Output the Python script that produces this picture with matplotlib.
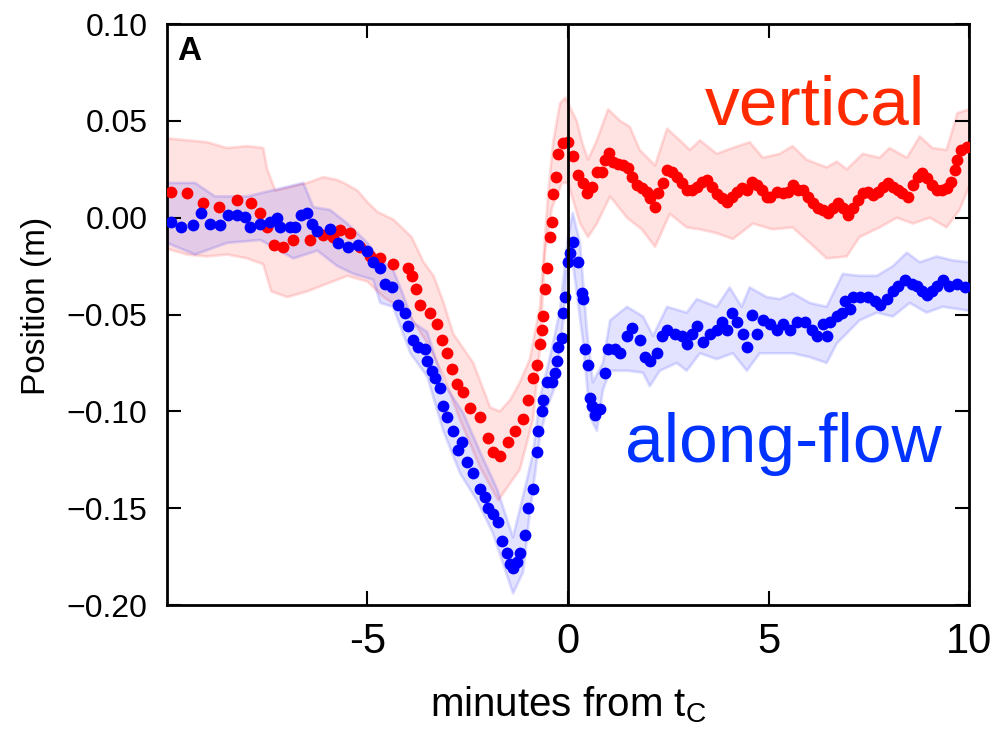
import numpy as np
import matplotlib
matplotlib.use('Agg')
import matplotlib.pyplot as plt

plt.rcParams['font.family'] = ['Liberation Sans', 'DejaVu Sans']

# Vertical position (red dots), minutes from tC and metres
vert_t = [-9.91, -9.5, -9.1, -8.7, -8.25, -7.9, -7.67, -7.5, -7.33, -7.1, -6.85, -6.43, -6.1, -5.85,
          -5.68, -5.43, -5.18, -4.93, -4.68, -4.36, -4.0, -3.88, -3.8, -3.69, -3.43, -3.26, -3.14,
          -3.01, -2.89, -2.77, -2.61, -2.44, -2.19, -1.99, -1.87, -1.7, -1.49, -1.32, -1.12, -1.0,
          -0.87, -0.77, -0.7, -0.65, -0.62, -0.57, -0.52, -0.45, -0.4, -0.37, -0.3, -0.25, -0.12,
          0.0, 0.13, 0.25, 0.37, 0.47, 0.6, 0.72, 0.85, 0.92, 1.02, 1.12, 1.25, 1.37, 1.49, 1.59,
          1.72, 1.84, 1.97, 2.04, 2.17, 2.24, 2.37, 2.47, 2.59, 2.72, 2.84, 2.96, 3.09, 3.21, 3.34,
          3.46, 3.59, 3.71, 3.84, 3.96, 4.08, 4.21, 4.33, 4.46, 4.58, 4.71, 4.83, 4.96, 5.03, 5.2,
          5.35, 5.48, 5.6, 5.73, 5.85, 5.98, 6.1, 6.23, 6.35, 6.48, 6.6, 6.72, 6.85, 6.97, 7.1,
          7.22, 7.35, 7.47, 7.6, 7.72, 7.85, 7.97, 8.1, 8.22, 8.34, 8.47, 8.59, 8.72, 8.82, 8.94,
          9.07, 9.19, 9.32, 9.44, 9.56, 9.64, 9.71, 9.81, 9.94]
vert_pos = [0.0134, 0.013, 0.0076, 0.0055, 0.009, 0.0077, 0.0025, -0.005, -0.014, -0.015, -0.0115,
            -0.0115, -0.009, -0.010, -0.0063, -0.008, -0.015, -0.020, -0.021, -0.024, -0.026, -0.030,
            -0.037, -0.045, -0.049, -0.055, -0.063, -0.070, -0.078, -0.086, -0.090, -0.098, -0.103,
            -0.114, -0.121, -0.123, -0.116, -0.110, -0.104, -0.094, -0.083, -0.076, -0.065, -0.058,
            -0.051, -0.037, -0.026, -0.010, -0.002, 0.012, 0.021, 0.033, 0.0386,
            0.039, 0.032, 0.022, 0.018, 0.013, 0.016, 0.0236, 0.0236, 0.030, 0.0334, 0.029, 0.028,
            0.027, 0.0257, 0.021, 0.017, 0.0155, 0.0133, 0.010, 0.0055, 0.013, 0.018, 0.0247, 0.0236,
            0.021, 0.018, 0.0143, 0.0143, 0.016, 0.0185, 0.0195, 0.016, 0.012, 0.010, 0.008, 0.0107,
            0.0133, 0.0155, 0.0143, 0.0185, 0.017, 0.0143, 0.0107, 0.0107, 0.0133, 0.0128, 0.0133,
            0.017, 0.0143, 0.0143, 0.0107, 0.0076, 0.005, 0.004, 0.0025, 0.005, 0.0076, 0.005, 0.0015,
            0.005, 0.009, 0.0128, 0.0133, 0.0118, 0.0133, 0.016, 0.018, 0.016, 0.0143, 0.0128, 0.0107,
            0.017, 0.021, 0.023, 0.0205, 0.017, 0.0143, 0.0143, 0.0155, 0.0185, 0.0247, 0.030, 0.035,
            0.0366]

# Along-flow position (blue dots)
flow_t = [-9.91, -9.66, -9.36, -9.16, -8.92, -8.67, -8.47, -8.25, -8.05, -7.92, -7.67, -7.42, -7.25,
          -7.17, -6.92, -6.8, -6.67, -6.5, -6.38, -6.25, -5.93, -5.73, -5.48, -5.23, -5.0, -4.86,
          -4.68, -4.56, -4.38, -4.23, -4.06, -3.99, -3.86, -3.74, -3.56, -3.51, -3.39, -3.31, -3.19,
          -3.11, -3.01, -2.86, -2.74, -2.64, -2.52, -2.36, -2.19, -2.07, -1.99, -1.87, -1.74, -1.64,
          -1.52, -1.44, -1.37, -1.27, -1.2, -1.07, -1.0, -0.87, -0.77, -0.75, -0.65, -0.62, -0.52,
          -0.4, -0.32, -0.27, -0.25, -0.15, -0.12, -0.07, 0.0, 0.05, 0.12, 0.25, 0.35, 0.37, 0.42,
          0.5, 0.55, 0.6, 0.67, 0.8, 0.92, 1.0, 1.17, 1.3, 1.47, 1.59, 1.79, 1.92, 2.04, 2.22, 2.34,
          2.47, 2.67, 2.84, 2.96, 3.09, 3.21, 3.36, 3.54, 3.71, 3.84, 3.96, 4.08, 4.21, 4.36, 4.46,
          4.58, 4.71, 4.86, 5.03, 5.2, 5.35, 5.53, 5.7, 5.9, 6.08, 6.2, 6.35, 6.45, 6.53, 6.7, 6.82,
          6.9, 7.02, 7.1, 7.27, 7.47, 7.65, 7.77, 7.95, 8.1, 8.22, 8.4, 8.57, 8.69, 8.82, 8.94, 9.07,
          9.19, 9.34, 9.51, 9.69, 9.89]
flow_pos = [-0.002, -0.005, -0.004, 0.0025, -0.003, -0.004, 0.0015, 0.0015, 0.0004, -0.005, -0.003,
            -0.002, 0.0, -0.005, -0.005, -0.005, 0.0015, 0.0025, -0.003, -0.007, -0.006, -0.013,
            -0.015, -0.014, -0.017, -0.023, -0.026, -0.034, -0.036, -0.045, -0.049, -0.056, -0.063,
            -0.067, -0.068, -0.074, -0.079, -0.083, -0.088, -0.097, -0.103, -0.110, -0.120, -0.116,
            -0.126, -0.132, -0.140, -0.144, -0.150, -0.153, -0.157, -0.167, -0.173, -0.179, -0.181,
            -0.178, -0.173, -0.164, -0.150, -0.140, -0.121, -0.110, -0.100, -0.094, -0.085, -0.085,
            -0.080, -0.074, -0.067, -0.062, -0.049, -0.041, -0.023, -0.018, -0.0125, -0.023, -0.039,
            -0.042, -0.068, -0.076, -0.093, -0.097, -0.102, -0.099, -0.080, -0.068, -0.068, -0.070,
            -0.061, -0.057, -0.063, -0.072, -0.074, -0.070, -0.061, -0.058, -0.060, -0.061, -0.065,
            -0.060, -0.056, -0.064, -0.060, -0.058, -0.054, -0.058, -0.049, -0.054, -0.060, -0.067,
            -0.050, -0.060, -0.053, -0.055, -0.058, -0.055, -0.058, -0.054, -0.054, -0.058, -0.061,
            -0.055, -0.061, -0.054, -0.051, -0.049, -0.043, -0.047, -0.041, -0.041, -0.041, -0.043,
            -0.045, -0.042, -0.038, -0.035, -0.032, -0.034, -0.035, -0.038, -0.040, -0.038, -0.035,
            -0.032, -0.035, -0.034, -0.036]

# Uncertainty band edges, vertical
vert_hi_t = [-10, -9.5, -9, -8.5, -8, -7.6, -7.5, -7.3, -6.9, -6.5, -6.1, -5.75, -5.5, -5.25, -5.0,
             -4.75, -4.35, -3.9, -3.6, -3.35, -3.1, -2.86, -2.36, -1.94, -1.7, -1.44, -1.2, -0.95,
             -0.7, -0.5, -0.37, -0.2, -0.07, 0.05, 0.22, 0.35, 0.5, 0.72, 1.0, 1.3, 1.54, 1.79, 2.17,
             2.47, 2.79, 3.04, 3.29, 3.71, 3.96, 4.53, 4.86, 5.28, 5.6, 5.95, 6.45, 6.7, 6.95, 7.35,
             7.77, 8.02, 8.45, 8.77, 9.09, 9.44, 9.71, 10]
vert_hi = [0.041, 0.040, 0.039, 0.036, 0.037, 0.036, 0.025, 0.014, 0.016, 0.018, 0.021, 0.0195, 0.017,
           0.014, 0.008, 0.003, -0.001, -0.010, -0.023, -0.030, -0.044, -0.060, -0.075, -0.098,
           -0.100, -0.094, -0.085, -0.073, -0.046, 0.011, 0.039, 0.059, 0.062, 0.057, 0.050, 0.039,
           0.030, 0.040, 0.056, 0.050, 0.047, 0.035, 0.027, 0.046, 0.040, 0.035, 0.040, 0.033, 0.035,
           0.039, 0.031, 0.033, 0.037, 0.030, 0.026, 0.029, 0.025, 0.033, 0.031, 0.036, 0.031, 0.042,
           0.036, 0.035, 0.054, 0.056]
vert_lo_t = [-10, -9.5, -9, -8.5, -8, -7.6, -7.4, -7.0, -6.5, -6.0, -5.5, -5.0, -4.6, -4.0, -3.5,
             -3.1, -2.7, -2.19, -1.74, -1.2, -0.87, -0.7, -0.57, -0.4, -0.15, 0.0, 0.3, 0.5, 0.72,
             1.05, 1.47, 1.84, 2.17, 2.54, 2.96, 3.29, 3.71, 4.11, 4.61, 5.1, 5.6, 6.03, 6.45, 6.95,
             7.27, 7.77, 8.2, 8.6, 9.02, 9.44, 9.76, 10]
vert_lo = [-0.016, -0.019, -0.020, -0.019, -0.021, -0.024, -0.038, -0.041, -0.038, -0.034, -0.030,
           -0.033, -0.041, -0.049, -0.065, -0.082, -0.104, -0.129, -0.146, -0.130, -0.104, -0.067,
           -0.017, 0.005, 0.018, 0.018, -0.003, -0.010, -0.003, 0.011, 0.0, -0.006, -0.015, 0.002,
           -0.005, -0.006, -0.008, -0.011, -0.003, -0.006, -0.005, -0.013, -0.021, -0.020, -0.010,
           -0.005, 0.0, -0.003, 0.0, -0.005, 0.004, 0.016]

# Uncertainty band edges, along-flow
flow_hi_t = [-10, -9.3, -8.8, -8.0, -7.4, -6.6, -6.35, -5.93, -5.5, -5.0, -4.76, -4.36, -4.18, -3.86,
             -3.51, -3.11, -2.61, -2.19, -1.77, -1.37, -1.02, -0.87, -0.7, -0.45, -0.2, 0.0, 0.12,
             0.3, 0.47, 0.62, 0.87, 1.05, 1.47, 1.87, 2.12, 2.47, 2.96, 3.21, 3.71, 4.03, 4.33, 4.53,
             4.96, 5.28, 5.6, 6.03, 6.45, 6.85, 7.27, 7.7, 8.1, 8.45, 8.77, 9.19, 9.59, 10]
flow_hi = [0.018, 0.018, 0.011, 0.011, 0.014, 0.018, 0.0055, 0.004, -0.003, -0.013, -0.020, -0.027,
           -0.036, -0.054, -0.059, -0.085, -0.101, -0.121, -0.140, -0.165, -0.135, -0.121, -0.093,
           -0.072, -0.048, -0.010, 0.0025, -0.013, -0.058, -0.085, -0.075, -0.053, -0.046, -0.051,
           -0.061, -0.046, -0.049, -0.042, -0.046, -0.036, -0.046, -0.036, -0.041, -0.042, -0.039,
           -0.044, -0.046, -0.029, -0.030, -0.030, -0.025, -0.018, -0.023, -0.020, -0.022, -0.023]
flow_lo_t = [-10, -9.3, -8.5, -7.67, -6.85, -6.25, -5.75, -5.35, -4.86, -4.68, -4.36, -3.93, -3.51,
             -3.11, -2.69, -2.27, -1.87, -1.37, -1.12, -0.95, -0.82, -0.7, -0.52, -0.32, -0.2, -0.12,
             -0.03, 0.12, 0.37, 0.55, 0.72, 0.87, 1.05, 1.47, 1.87, 2.04, 2.29, 2.71, 2.96, 3.29,
             3.71, 4.11, 4.46, 4.78, 5.2, 5.6, 6.03, 6.45, 6.7, 7.27, 7.7, 8.1, 8.52, 8.94, 9.34, 10]
flow_lo = [-0.013, -0.019, -0.013, -0.0115, -0.021, -0.017, -0.025, -0.029, -0.032, -0.044, -0.046,
           -0.070, -0.082, -0.110, -0.132, -0.146, -0.163, -0.194, -0.183, -0.152, -0.132, -0.113,
           -0.098, -0.087, -0.067, -0.053, -0.028, -0.023, -0.063, -0.103, -0.110, -0.089, -0.079,
           -0.079, -0.080, -0.087, -0.079, -0.075, -0.079, -0.070, -0.073, -0.070, -0.079, -0.070,
           -0.070, -0.070, -0.072, -0.075, -0.065, -0.053, -0.049, -0.051, -0.044, -0.049, -0.046,
           -0.048]

x_ticks = [-5, 0, 5, 10]
x_tick_labels = ['-5', '0', '5', '10']
y_ticks = [0.10, 0.05, 0.00, -0.05, -0.10, -0.15, -0.20]

fig = plt.figure(figsize=(9.98, 7.30), dpi=100)
ax = fig.add_axes([0.1673, 0.1712, 0.8037, 0.7958])


# Shaded band built from upper edge and reversed lower edge
def band(hi_t, hi, lo_t, lo, color):
    poly_t = list(hi_t) + list(lo_t)[::-1]
    poly_y = list(hi) + list(lo)[::-1]
    ax.fill(poly_t, poly_y, color=color, alpha=0.11, lw=0, zorder=1)
    ax.plot(hi_t, hi, color=color, alpha=0.13, lw=2, zorder=1)
    ax.plot(lo_t, lo, color=color, alpha=0.13, lw=2, zorder=1)


band(vert_hi_t, vert_hi, vert_lo_t, vert_lo, '#ff0000')
band(flow_hi_t, flow_hi, flow_lo_t, flow_lo, '#0000ff')

ax.plot(vert_t, vert_pos, 'o', color='#ff0000', ms=8.5, mec='none', zorder=3)
ax.plot(flow_t, flow_pos, 'o', color='#0000ff', ms=8.5, mec='none', zorder=3)

# Line at tC
ax.axvline(0, color='black', lw=2, zorder=4)

ax.set_xlim(-10, 10)
ax.set_ylim(-0.20, 0.10)
ax.set_xticks(x_ticks)
ax.set_xticklabels(x_tick_labels, fontsize=30)
ax.set_yticks(y_ticks)
ax.set_yticklabels(['%.2f' % v if v >= 0 else '\u2212%.2f' % -v for v in y_ticks], fontsize=23)
ax.tick_params(direction='in', length=10, width=1.5, top=True, right=True)
ax.tick_params(axis='x', pad=12)
ax.tick_params(axis='y', pad=14)
for s in ax.spines.values():
    s.set_linewidth(2)

ax.set_xlabel('minutes from t$_\\mathregular{C}$', fontsize=29, labelpad=16)
ax.set_ylabel('Position (m)', fontsize=24)
ax.yaxis.set_label_coords(-0.143, 0.515)

ax.text(0.013, 0.979, 'A', transform=ax.transAxes, fontsize=24, fontweight='bold', va='top')
ax.text(3.41, 0.048, 'vertical', color='#ff2a00', fontsize=50)
ax.text(1.42, -0.126, 'along-flow', color='#0033ff', fontsize=50)

fig.savefig('out.png', dpi=100)
